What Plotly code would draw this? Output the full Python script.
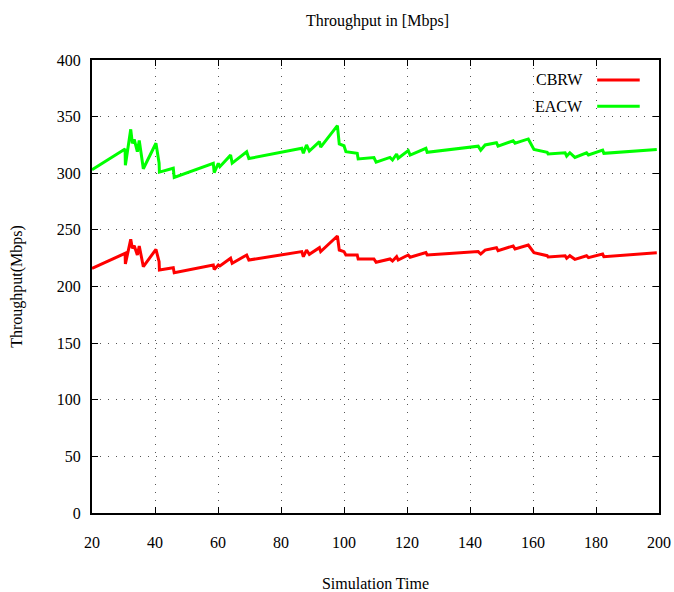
import plotly.graph_objects as go

time = [20, 30.5, 30.6, 32.3, 32.8, 33.4, 34.4, 35.0, 36.3, 40.3, 41.3, 41.4, 45.8, 46.1,
        58.5, 58.8, 60.1, 60.6, 64.0, 64.5, 69.1, 69.8, 86.6, 87.1, 88.1, 89.0, 92.2, 92.6,
        97.9, 98.5, 100.0, 100.6, 104.2, 104.5, 109.5, 110.2, 114.6, 115.4, 116.7, 117.2,
        120.4, 121.0, 126.0, 126.4, 142.6, 143.4, 144.8, 148.4, 148.9, 153.7, 154.3, 158.5,
        160.3, 164.5, 164.8, 170.2, 170.7, 171.7, 173.3, 177.0, 177.6, 182.1, 182.5, 199.3]

eacw = [303, 321.4, 307, 338.8, 326.5, 330, 319, 329, 304, 326.5, 309, 301, 304.4, 296.4,
        308.8, 300.5, 308.8, 305.8, 316, 309, 319, 313, 322, 317.6, 325, 319.6, 327.9, 323,
        342, 325.8, 324.3, 319, 317.6, 312.6, 313.8, 309.7, 314, 311.7, 317, 313.2,
        320, 316.1, 322, 318.5, 323.9, 320.4, 325, 327, 324, 328.7, 326.5, 330.3,
        321, 318.5, 317, 318.1, 315.2, 318.1, 314, 318.1, 316.1, 320.5, 317.6, 321]

cbrw = [216, 229.3, 219.9, 241.7, 233.7, 236, 227.8, 235.8, 217.5, 232.8, 221.9, 214.6, 216.6, 212.2,
        219, 215.1, 219, 218.1, 224.9, 220.5, 227.8, 223.4, 230.8, 226.3, 232.2, 228.4, 234.3, 230.8,
        244.6, 232.2, 230.8, 227.8, 227.8, 224.3, 224.3, 221.4, 224.3, 222.5, 226.3, 223.4,
        227.8, 225.8, 229.9, 227.8, 230.8, 228.7, 232.2, 234.3, 231.7, 235.8, 233.1, 236.6,
        229.9, 227.2, 226.0, 227.2, 224.9, 227.2, 224.0, 227.2, 225.5, 228.7, 226.3, 229.9]

x_ticks = [20, 40, 60, 80, 100, 120, 140, 160, 180, 200]
y_ticks = [0, 50, 100, 150, 200, 250, 300, 350, 400]

series = [("CBRW", cbrw, "#ff0000"), ("EACW", eacw, "#00ff00")]

FONT = "Liberation Serif"
fig = go.Figure()
for name, vals, col in series:
    fig.add_trace(go.Scatter(x=time, y=vals, mode="lines", name=name,
                             line=dict(color=col, width=3), showlegend=False))

# gnuplot-style legend (text then sample line), top right inside plot
for i, (name, vals, col) in enumerate(series):
    yp = 0.956 - i * 0.058
    fig.add_annotation(x=0.87, y=yp, xref="paper", yref="paper", text=name,
                       showarrow=False, xanchor="right", yanchor="middle",
                       font=dict(family=FONT, size=16, color="black"))
    fig.add_shape(type="line", xref="paper", yref="paper", x0=0.891, x1=0.966,
                  y0=yp, y1=yp, line=dict(color=col, width=3))

axis_common = dict(showline=True, linecolor="black", linewidth=2, mirror="ticks",
                   ticks="inside", ticklen=6, tickwidth=1, tickcolor="black",
                   showgrid=True, gridcolor="#555555", griddash="1px,7px", gridwidth=1,
                   zeroline=False, automargin=False,
                   tickfont=dict(family=FONT, size=16, color="black"))

fig.update_xaxes(range=[20, 200], tickvals=x_ticks, ticklabelstandoff=14,
                 title=dict(text="Simulation Time", font=dict(family=FONT, size=16, color="black"),
                            standoff=30),
                 **axis_common)
fig.update_yaxes(range=[0, 400], tickvals=y_ticks, ticklabelstandoff=6,
                 title=dict(text="Throughput(Mbps)", font=dict(family=FONT, size=16, color="black"),
                            standoff=30),
                 **axis_common)

fig.update_layout(
    width=674, height=592,
    margin=dict(l=92, r=15, t=60, b=79),
    paper_bgcolor="white", plot_bgcolor="white",
    title=dict(text="Throughput in [Mbps]", x=0.56, xanchor="center", y=0.965, yanchor="middle",
               font=dict(family=FONT, size=16, color="black")),
)

fig.write_html("out.html")
